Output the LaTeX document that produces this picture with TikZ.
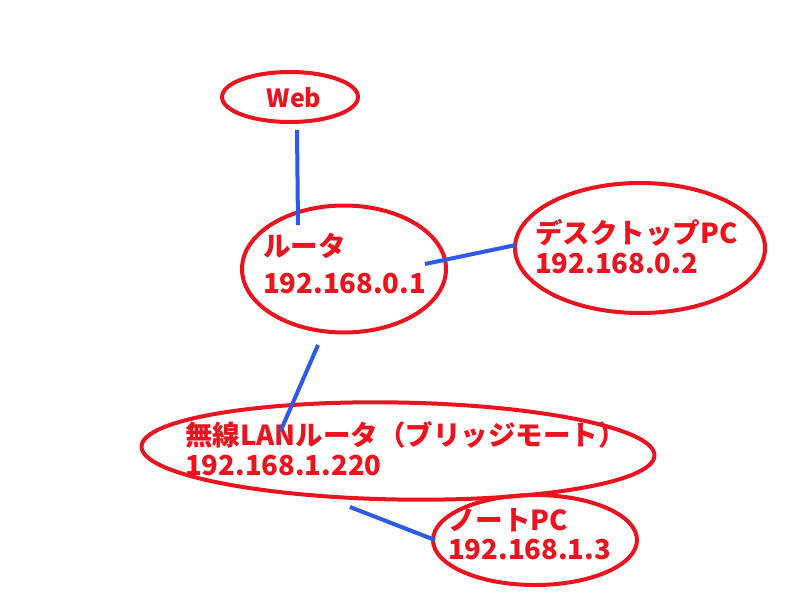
\documentclass[tikz,border=0pt]{standalone}
\usepackage{fontspec}
\setmainfont{Noto Sans CJK JP}
\usetikzlibrary{shapes.geometric}
\definecolor{ink}{RGB}{235,20,30}
\definecolor{wire}{RGB}{45,90,235}
\tikzset{
  blob/.style={draw=ink, line width=4pt, ellipse, inner sep=0pt},
  lbl/.style={text=ink, font=\bfseries\fontsize{27.5}{30}\selectfont, anchor=west, inner sep=0pt},
  link/.style={draw=wire, line width=4pt}
}
\begin{document}
\begin{tikzpicture}[x=1pt,y=-1pt]
\useasboundingbox[fill=white] (0,0) rectangle (800,600);
% ellipses
\node[blob, minimum width=136pt, minimum height=50pt] (web) at (290,97) {};
\node[blob, minimum width=204pt, minimum height=127pt] (router) at (344,269) {};
\node[blob, minimum width=250pt, minimum height=130pt] (desk) at (640,248) {};
\node[blob, minimum width=513pt, minimum height=97pt, rotate=-1] (wlan) at (398,451) {};
\node[blob, minimum width=204pt, minimum height=90pt] (note) at (535,540) {};
% labels
\node[text=ink, font=\bfseries\fontsize{25}{28}\selectfont, inner sep=0pt] (tweb) at (294,98) {Web};
\node[lbl] (tr1) at (263,246) {ルータ};
\node[lbl] (tr2) at (263,284) {192.168.0.1};
\node[lbl] (td1) at (535,233) {デスクトップPC};
\node[lbl] (td2) at (535,264) {192.168.0.2};
\node[lbl] (tw1) at (185,435) {無線LANルータ（ブリッジモート）};
\node[lbl] (tw2) at (185,466) {192.168.1.220};
\node[lbl] (tn1) at (448,520) {ノートPC};
\node[lbl] (tn2) at (448,550) {192.168.1.3};
% connector ends
\coordinate (a1) at (297,130);
\coordinate (a2) at (298,225);
\coordinate (b1) at (425,264);
\coordinate (b2) at (516,245);
\coordinate (c1) at (318,345);
\coordinate (c2) at (281,430);
\coordinate (d1) at (350,507);
\coordinate (d2) at (435,540);
\draw[link] (a1) -- (a2);
\draw[link] (b1) -- (b2);
\draw[link] (c1) -- (c2);
\draw[link] (d1) -- (d2);
\end{tikzpicture}
\end{document}
